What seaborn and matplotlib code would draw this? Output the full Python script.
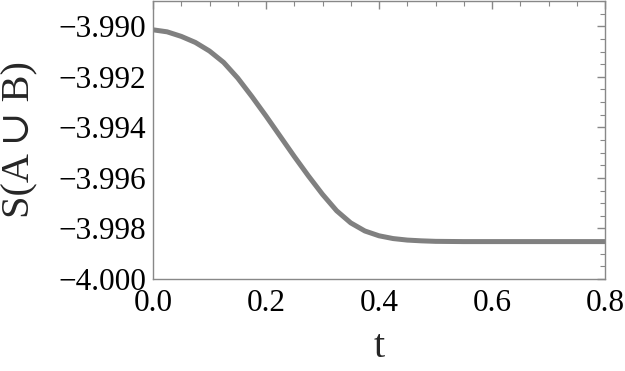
import numpy as np
import pandas as pd
import matplotlib
matplotlib.use("Agg")
import matplotlib.pyplot as plt
import seaborn as sns
from matplotlib.ticker import MultipleLocator, FuncFormatter

t_vals = [0.0, 0.025, 0.05, 0.075, 0.1, 0.125, 0.15, 0.175, 0.2, 0.225, 0.25,
          0.275, 0.3, 0.325, 0.35, 0.375, 0.4, 0.425, 0.45, 0.475, 0.5, 0.55,
          0.6, 0.7, 0.8]
s_vals = [-3.99014, -3.99022, -3.99040, -3.99064, -3.99098, -3.99143, -3.99205,
          -3.99278, -3.99355, -3.99435, -3.99515, -3.99592, -3.99665, -3.99730,
          -3.99778, -3.99810, -3.99829, -3.99840, -3.99846, -3.99849, -3.99851,
          -3.99852, -3.99852, -3.99852, -3.99852]

df = pd.DataFrame({"t": t_vals, "S": s_vals})

sns.set_style("white")
plt.rcParams['font.family'] = ['Liberation Serif', 'DejaVu Serif']

fig = plt.figure(figsize=(6.25, 3.71), dpi=100)
ax = fig.add_axes([153/625, 1 - 279/371, (605-153)/625, 279/371 - 0.002])

sns.lineplot(data=df, x="t", y="S", ax=ax, color="#808080", linewidth=3.6)

ax.set_xlim(0.0, 0.8)
ax.set_ylim(-4.000, -3.98899)

ax.xaxis.set_major_locator(MultipleLocator(0.2))
ax.xaxis.set_minor_locator(MultipleLocator(0.05))
ax.yaxis.set_major_locator(MultipleLocator(0.002))
ax.yaxis.set_minor_locator(MultipleLocator(0.0005))


def yfmt(v, pos):
    s = f"{v:.3f}"
    return s.replace("-", "\u2212")


def xfmt(v, pos):
    return f"{v:.1f}"


ax.xaxis.set_major_formatter(FuncFormatter(xfmt))
ax.yaxis.set_major_formatter(FuncFormatter(yfmt))

ax.tick_params(axis="both", which="both", direction="in", top=True, right=True,
               color="#888888", labelsize=22.5, labelcolor="black")
ax.tick_params(axis="both", which="major", length=6, width=1)
ax.tick_params(axis="both", which="minor", length=3.5, width=0.8)
ax.tick_params(axis="x", which="major", pad=7)
ax.tick_params(axis="y", which="major", pad=5)

for sp in ax.spines.values():
    sp.set_color("#888888")
    sp.set_linewidth(1.0)
    sp.set_visible(True)

ax.set_xlabel("t", fontsize=29, labelpad=8)
ax.set_ylabel("S(A \u222A B)", fontsize=29, labelpad=14)

fig.savefig("out.png", dpi=100)
